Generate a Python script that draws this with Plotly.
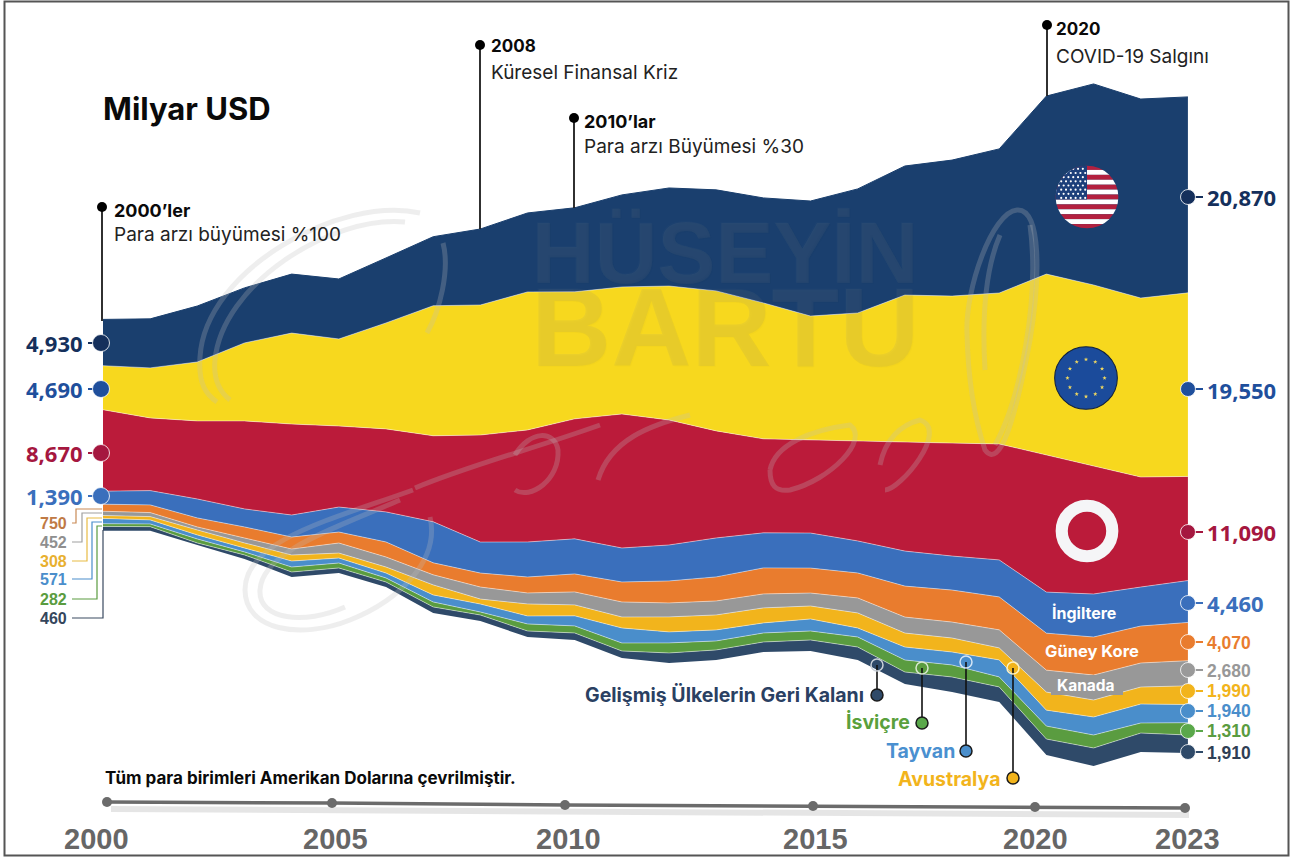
import base64, math
import plotly.graph_objects as go

years = list(range(2000, 2024))
# Stream offset below the stack (USD bn on the chart's vertical scale), then each currency's money supply
stream_offset = [28680,28680,27160,25670,23750,24180,22680,19920,19060,17360,17040,15120,14590,14910,15760,15870,14910,12350,11500,10440,4790,3620,5110,5010]
rest = [460,430,210,430,530,530,530,640,640,640,750,750,1070,1070,1070,1170,1380,1280,1600,1600,1700,1920,2020,1910]
switzerland = [282,290,430,320,530,530,430,530,320,750,750,850,1070,960,960,960,1070,1280,1280,1070,1380,1380,1070,1310]
taiwan = [571,430,430,430,640,530,530,750,850,850,1070,1600,1170,1170,1070,1280,960,1380,1380,1810,1700,1920,2020,1940]
australia = [308,350,530,530,640,530,640,1070,530,1280,1170,1170,1600,1600,1600,1380,1600,1490,1490,1280,1920,1810,1810,1990]
canada = [452,430,320,530,640,1070,1070,1070,1280,1170,1380,1600,1490,1490,1490,1380,1600,1700,1700,1920,2340,2660,2560,2680]
south_korea = [750,820,960,1170,1280,1170,1600,1280,1490,1700,1920,2130,2340,2560,2770,2660,2660,3300,3410,3510,3940,4050,3940,4070]
uk = [1390,1520,2020,1920,2340,2660,3200,4370,3300,3730,3730,3620,3830,4150,3730,3730,3410,3730,3620,3940,4370,4580,4150,4460]
japan = [8670,7740,8310,9370,9690,8630,8840,9160,11400,11930,12780,14270,13310,11400,10010,9900,10650,11610,12030,12350,14590,13630,11720,11090]
euro = [4690,5330,6280,8310,9690,9270,11290,13850,13850,14700,13530,13530,14270,14910,14480,13210,13630,15660,15660,16080,19280,19280,19060,19550]
usa = [4930,5220,5960,5860,6280,6390,6920,7350,8090,8410,8950,9800,10440,10760,11180,12250,13210,13740,14480,15340,18960,21410,21190,20870]

left_big = ["4,930", "4,690", "8,670", "1,390"]
left_small = ["750", "452", "308", "571", "282", "460"]
right_labels = ["20,870", "19,550", "11,090", "4,460", "4,070", "2,680", "1,990", "1,940", "1,310", "1,910"]
axis_years = ["2000", "2005", "2010", "2015", "2020", "2023"]

NAVY, YELLOW, RED, UKB, ORANGE, GREY, GOLD, TWB, GREEN, DARK = (
    "#1a3f6e", "#f7d81e", "#bb1b3a", "#3a6fbc", "#e97c2e", "#989898", "#f2b41c", "#4a8ecb", "#5a9c40", "#2f4a69")
TXT_NAVY, TXT_BLUE, TXT_RED = "#15305c", "#1f4f9c", "#a5173f"
FONT = "Inter, Noto Sans, sans-serif"

fig = go.Figure()
fig.add_trace(go.Scatter(x=years, y=stream_offset, stackgroup="s", mode="none", fillcolor="rgba(0,0,0,0)", showlegend=False))
for vals, col, name in [(rest, DARK, "Gelişmiş Ülkelerin Geri Kalanı"), (switzerland, GREEN, "İsviçre"), (taiwan, TWB, "Tayvan"),
                        (australia, GOLD, "Avustralya"), (canada, GREY, "Kanada"), (south_korea, ORANGE, "Güney Kore"),
                        (uk, UKB, "İngiltere"), (japan, RED, "Japonya"), (euro, YELLOW, "Euro"), (usa, NAVY, "ABD")]:
    edge = "rgba(255,255,255,0.45)" if col != NAVY else NAVY
    fig.add_trace(go.Scatter(x=years, y=vals, stackgroup="s", mode="lines", name=name, fillcolor=col,
                             line=dict(color=edge, width=1), showlegend=False))

PX = lambda **k: go.Scatter(xaxis="x2", yaxis="y2", showlegend=False, hoverinfo="skip", **k)

# watermark swirls
SW = "rgba(190,190,190,0.26)"
swirls = [
    "M 420 213 C 340 195 205 270 200 357 C 198 385 207 395 217 402",
    "M 405 222 C 330 215 222 285 215 360 C 213 380 220 392 230 400",
    "M 443 243 C 450 270 440 310 427 333",
    "M 413 490 C 330 520 245 540 245 590 C 245 630 300 640 350 620 C 400 600 440 560 430 517",
    "M 400 500 C 330 530 262 552 260 590 C 258 620 305 625 345 607",
    "M 1017 210 C 992 212 965 290 967 333 C 968 380 975 420 985 450 C 1000 470 1015 420 1030 340 C 1040 280 1042 208 1017 210",
    "M 1000 235 C 985 270 982 320 985 370",
    "M 1030 225 C 1040 300 1020 400 995 445",
    "M 415 488 C 470 465 530 450 600 425",
    "M 515 455 C 530 430 555 430 558 450 C 560 480 530 500 515 490",
    "M 598 480 C 610 440 650 425 690 415",
    "M 770 470 C 775 445 810 430 850 425 C 870 440 830 480 790 490 C 775 492 770 485 770 470",
    "M 880 465 C 885 440 900 425 920 420 C 950 430 900 490 885 490",
]
shapes = [dict(type="path", path=p, xref="x2", yref="y2", line=dict(color=SW, width=5), layer="above") for p in swirls]

# frame
shapes.append(dict(type="rect", xref="x2", yref="y2", x0=4.5, y0=1.5, x1=1288.5, y1=855.5, line=dict(color="#555555", width=2), layer="above"))

# axis ribbon
ax_x = [107, 332, 565, 813, 1035, 1185]
ax_y = [802, 803, 805, 806, 807, 808]
fig.add_trace(PX(x=[v + 4 for v in ax_x], y=[v + 7 for v in ax_y], mode="lines", line=dict(color="rgba(0,0,0,0.10)", width=6)))
fig.add_trace(PX(x=ax_x, y=ax_y, mode="lines+markers", line=dict(color="#6b6b6b", width=3.5), marker=dict(color="#6b6b6b", size=10)))

# event pins
for x, y0, y1 in [(102, 207, 321), (480, 45, 229), (574, 118, 208), (1047, 25, 96)]:
    fig.add_trace(PX(x=[x, x], y=[y0, y1], mode="lines", line=dict(color="#1a1a1a", width=1.8)))
    fig.add_trace(PX(x=[x], y=[y0], mode="markers", marker=dict(color="#000000", size=10)))

# left leaders
for pts, c in [([(72,523),(76,523),(76,509),(102,509)], "#c98a55"), ([(72,542),(82,542),(82,513),(102,513)], "#a0a0a0"),
               ([(72,561),(87,561),(87,518),(102,518)], "#e8bb45"), ([(72,579),(92,579),(92,522),(102,522)], "#4a8ecb"),
               ([(72,599),(97,599),(97,526),(102,526)], "#5a9c40"), ([(72,618),(103,618),(103,530)], "#3a4a60")]:
    fig.add_trace(PX(x=[p[0] for p in pts], y=[p[1] for p in pts], mode="lines", line=dict(color=c, width=1.2)))

# value dots
for x, y, c, lx in [(101,343,TXT_NAVY,88),(101,389,TXT_BLUE,88),(101,453,TXT_RED,88),(101,496,"#3a6fbc",88)]:
    fig.add_trace(PX(x=[lx, x], y=[y, y], mode="lines", line=dict(color=c, width=2)))
    fig.add_trace(PX(x=[x], y=[y], mode="markers", marker=dict(color=c, size=17, line=dict(color="rgba(255,255,255,0.8)", width=1))))
for y, c in [(197,TXT_NAVY),(389,TXT_BLUE),(532,TXT_RED),(603,"#3a6fbc"),(642,ORANGE),(670,"#9a9a9a"),(691,GOLD),(711,TWB),(731,"#5aa84a"),(752,"#2f4a69")]:
    fig.add_trace(PX(x=[1188, 1203], y=[y, y], mode="lines", line=dict(color=c, width=2)))
    fig.add_trace(PX(x=[1188], y=[y], mode="markers", marker=dict(color=c, size=15, line=dict(color="rgba(255,255,255,0.8)", width=1))))

# callouts
for x, y0, y1, c, rim in [(877,665,695,DARK,"#c9d0d8"),(922,668,723,"#5aa84a","#d8e8d0"),(966,662,751,TWB,"#d5e5f5"),(1013,668,778,GOLD,"#fff2c0")]:
    fig.add_trace(PX(x=[x, x], y=[y0, y1], mode="lines", line=dict(color="#111111", width=1.6)))
    fig.add_trace(PX(x=[x], y=[y0], mode="markers", marker=dict(color="rgba(0,0,0,0)", size=12, line=dict(color=rim, width=1.5))))
    fig.add_trace(PX(x=[x], y=[y1], mode="markers", marker=dict(color=c, size=12, line=dict(color="#1a1a1a", width=1.5))))

anns = []
def T(x, y, s, size=16, color="#111111", bold=False, anchor="left", family=FONT, shadow=None):
    font = dict(family=family, size=size, color=color)
    if shadow:
        font["shadow"] = shadow
    anns.append(dict(x=x, y=y, xref="x2", yref="y2", text=f"<b>{s}</b>" if bold else s, showarrow=False, xanchor=anchor, yanchor="middle",
                     borderpad=0, borderwidth=0, font=font))

# embossed watermark name, one two-line text (base size sets the line spacing)
EMB = "1px 1px 1px rgba(0,0,0,0.14), -1px -1px 1px rgba(255,255,255,0.14)"
T(725, 297, "<span style='font-size:87px'>HÜSEYİN</span><br><span style='font-size:111px'>BARTU</span>", 64,
  "rgba(128,128,128,0.10)", True, "center", "Liberation Sans", EMB)

T(103, 108, "Milyar USD", 31, "#0a0a0a", True)
T(114, 210, "2000’ler", 18, "#0a0a0a", True)
T(114, 234, "Para arzı büyümesi %100", 19, "#222222")
T(491, 46, "2008", 17, "#0a0a0a", True)
T(491, 72, "Küresel Finansal Kriz", 19, "#222222")
T(584, 121, "2010’lar", 18, "#0a0a0a", True)
T(584, 146, "Para arzı Büyümesi %30", 19, "#222222")
T(1056, 29, "2020", 17, "#0a0a0a", True)
T(1056, 56, "COVID-19 Salgını", 19, "#222222")
T(105, 778, "Tüm para birimleri Amerikan Dolarına çevrilmiştir.", 17, "#0a0a0a", True)

for s, y, c in zip(left_big, [343, 389, 453, 496], [TXT_NAVY, TXT_BLUE, TXT_RED, "#3a6fbc"]):
    T(83, y, s, 22, c, True, "right", "Noto Sans")
for s, y, c in zip(left_small, [523, 542, 561, 579, 599, 618], ["#c07a45", "#8f8f8f", "#e8b030", "#4a8ecb", "#5a9c40", "#34465c"]):
    T(67, y, s, 16, c, True, "right", "Liberation Sans")
for s, y, c, sz, fam in zip(right_labels, [197, 390, 532, 603, 643, 671, 691, 711, 731, 753],
                       [TXT_NAVY, TXT_BLUE, TXT_RED, "#3a6fbc", ORANGE, "#989898", GOLD, TWB, "#5a9c40", "#2f3f55"],
                       [22, 22, 22, 22, 17.5, 17.5, 17.5, 17.5, 17.5, 17.5],
                       ["Noto Sans"] * 4 + ["Liberation Sans"] * 6):
    T(1207, y, s, sz, c, True, "left", fam)

T(1084, 613, "İngiltere", 16, "#ffffff", True, "center")
T(1092, 651, "Güney Kore", 16.5, "#ffffff", True, "center")
T(1086, 685, "Kanada", 15.5, "#ffffff", True, "center")
shapes.append(dict(type="rect", xref="x2", yref="y2", x0=1051, y0=675, x1=1123, y1=695, line=dict(width=0), fillcolor="#989898", layer="above"))

T(864, 695, "Gelişmiş Ülkelerin Geri Kalanı", 19.5, "#2a4062", True, "right")
T(910, 722, "İsviçre", 19.5, "#5aa03c", True, "right")
T(955, 751, "Tayvan", 19.5, "#4a90d0", True, "right")
T(1000, 779, "Avustralya", 19.5, "#f2b41c", True, "right")

for s, x in zip(axis_years, [96, 335, 568, 815, 1035, 1187]):
    T(x, 839, s, 29, "#666666", True, "center", "Liberation Sans")

# flag images
def svg_uri(s):
    return "data:image/svg+xml;base64," + base64.b64encode(s.encode("utf-8")).decode()

stripes = "".join(f'<rect x="0" y="{i*100/13:.2f}" width="100" height="{100/13:.2f}" fill="{"#b3203f" if i % 2 == 0 else "#ffffff"}"/>' for i in range(13))
stars = "".join(f'<circle cx="{6+c*7.5+(3.7 if r%2 else 0):.1f}" cy="{6+r*6.5:.1f}" r="1.7" fill="#ffffff"/>' for r in range(8) for c in range(6))
us_svg = ('<svg xmlns="http://www.w3.org/2000/svg" width="128" height="128" viewBox="0 0 100 100"><defs><clipPath id="c"><circle cx="50" cy="50" r="49"/></clipPath></defs>'
          f'<g clip-path="url(#c)">{stripes}<rect x="0" y="0" width="50" height="53.8" fill="#1c3f7a"/>{stars}</g></svg>')

def star(cx, cy, r):
    pts = []
    for i in range(10):
        a = -math.pi / 2 + i * math.pi / 5
        rr = r if i % 2 == 0 else r * 0.4
        pts.append(f"{cx + rr * math.cos(a):.2f},{cy + rr * math.sin(a):.2f}")
    return f'<polygon points="{" ".join(pts)}" fill="#f0d860"/>'
ring = "".join(star(50 + 29 * math.cos(i * math.pi / 6), 50 + 29 * math.sin(i * math.pi / 6), 3.6) for i in range(12))
eu_svg = ('<svg xmlns="http://www.w3.org/2000/svg" width="128" height="128" viewBox="0 0 100 100">'
          f'<circle cx="50" cy="50" r="49" fill="#1b4b9b" stroke="#10203c" stroke-width="1.6"/>{ring}</svg>')
jp_svg = ('<svg xmlns="http://www.w3.org/2000/svg" width="128" height="128" viewBox="0 0 100 100">'
          '<circle cx="50" cy="50" r="39.5" fill="none" stroke="#f5f5f7" stroke-width="19"/></svg>')

images = [dict(source=svg_uri(s), xref="x2", yref="y2", x=x, y=y, sizex=w, sizey=w, xanchor="left", yanchor="top", sizing="stretch", layer="above")
          for s, x, y, w in [(us_svg, 1055, 165, 64), (eu_svg, 1054, 346, 64), (jp_svg, 1055, 499, 64)]]

fig.update_layout(
    width=1296, height=858, margin=dict(l=0, r=0, t=0, b=0), paper_bgcolor="#ffffff", plot_bgcolor="#ffffff", showlegend=False,
    xaxis=dict(range=[2000 - 103 / 47.17, 2000 + (1296 - 103) / 47.17], visible=False, fixedrange=True),
    yaxis=dict(range=[-6177, 85200], visible=False, fixedrange=True),
    xaxis2=dict(range=[0, 1296], overlaying="x", visible=False, fixedrange=True),
    yaxis2=dict(range=[858, 0], overlaying="y", visible=False, fixedrange=True),
    shapes=shapes, annotations=anns, images=images,
)
fig.write_html("out.html", config=dict(displayModeBar=False), post_script="document.body.style.margin='0';document.documentElement.style.overflow='hidden';")
